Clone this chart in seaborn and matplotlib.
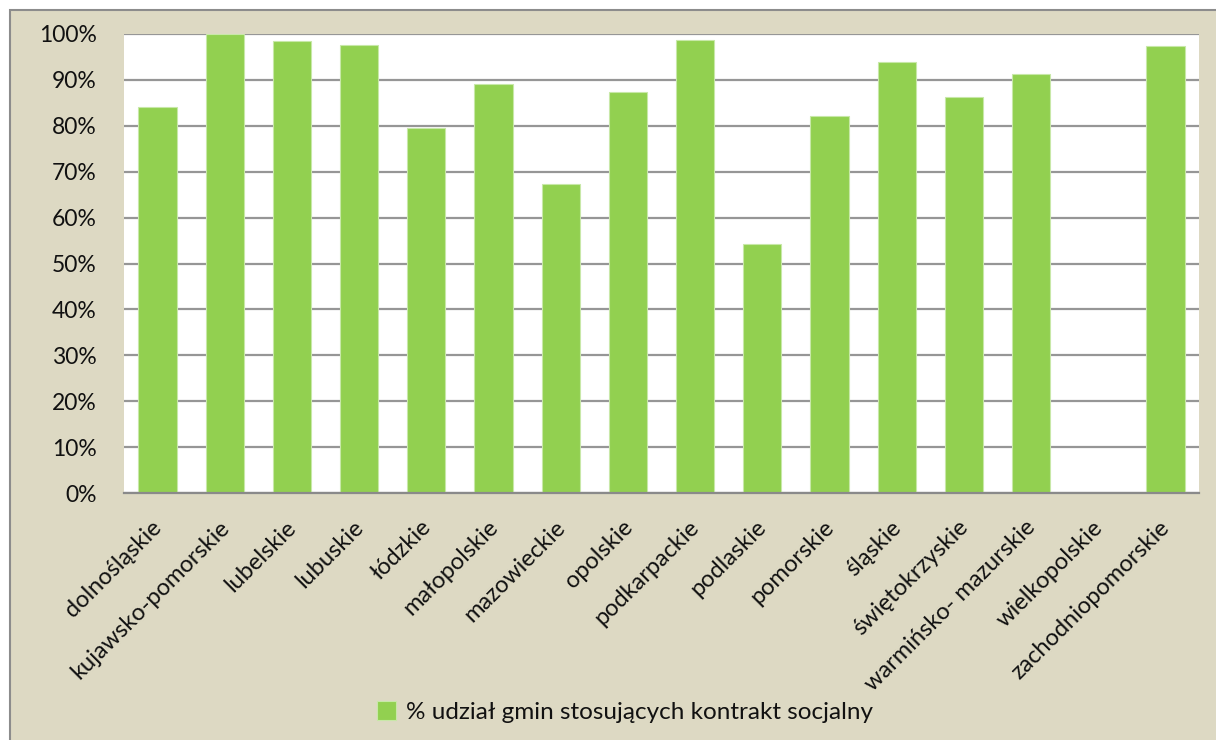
import matplotlib
matplotlib.use("Agg")
import matplotlib.pyplot as plt
import matplotlib.transforms as mtransforms
import seaborn as sns
import pandas as pd
from matplotlib.patches import Rectangle
from matplotlib.ticker import FuncFormatter

categories = ["dolnośląskie", "kujawsko-pomorskie", "lubelskie", "lubuskie", "łódzkie",
              "małopolskie", "mazowieckie", "opolskie", "podkarpackie", "podlaskie",
              "pomorskie", "śląskie", "świętokrzyskie", "warmińsko- mazurskie",
              "wielkopolskie", "zachodniopomorskie"]
values = [84.0, 100.0, 98.5, 97.6, 79.6, 89.0, 67.4, 87.3, 98.7, 54.2,
          82.1, 94.0, 86.2, 91.3, 0.0, 97.4]
series_label = "% udział gmin stosujących kontrakt socjalny"
yticks = [0, 10, 20, 30, 40, 50, 60, 70, 80, 90, 100]

df = pd.DataFrame({"region": categories, "value": values})

sns.set_style("white")
plt.rcParams["font.family"] = ["Lato", "DejaVu Sans"]

W, H = 1216, 740
fig = plt.figure(figsize=(W / 100, H / 100), dpi=100, facecolor="white")
beige = "#DDD9C3"
fig.add_artist(Rectangle((10 / W, -0.01), 1.02, 1 - 10 / H + 0.01, transform=fig.transFigure,
                         facecolor=beige, edgecolor="#8C8C8C", linewidth=1.5, zorder=0))

ax = fig.add_axes([124 / W, 1 - 493 / H, (1199 - 124) / W, (493 - 34) / H])
ax.set_facecolor("white")
sns.barplot(data=df, x="region", y="value", color="#92D050", width=0.57,
            saturation=1, edgecolor="#C8E8A8", linewidth=0.8, label=series_label,
            ax=ax, zorder=3)

ax.set_ylim(0, 100)
ax.set_xlim(-0.5, len(categories) - 0.5)
ax.set_yticks(yticks)
ax.yaxis.set_major_formatter(FuncFormatter(lambda v, p: f"{int(v)}%"))
ax.grid(axis="y", color="#969696", linewidth=1.6, zorder=0)
ax.set_axisbelow(True)
for s in ["left", "right", "top"]:
    ax.spines[s].set_visible(False)
ax.spines["bottom"].set_color("#8A8A8A")
ax.spines["bottom"].set_linewidth(1.6)
ax.spines["bottom"].set_zorder(4)
ax.tick_params(axis="y", length=0, pad=19.5, labelsize=16.5, labelcolor="#111111")
ax.tick_params(axis="x", length=0, pad=0, labelsize=17, labelcolor="#111111")
ax.set_xlabel("")
ax.set_ylabel("")
offset = mtransforms.ScaledTranslation(1 / 100, -31 / 100, fig.dpi_scale_trans)
for lab in ax.get_xticklabels():
    lab.set_rotation(45)
    lab.set_ha("right")
    lab.set_va("center")
    lab.set_rotation_mode("anchor")
    lab.set_transform(lab.get_transform() + offset)
for lab in ax.get_yticklabels():
    lab.set_ha("right")

if ax.legend_:
    ax.legend_.remove()
handles, labels = ax.get_legend_handles_labels()
fig.legend(handles, labels, loc="center", bbox_to_anchor=(625 / W, 1 - 712 / H),
           frameon=False, fontsize=17.5, handlelength=0.8, handleheight=0.8,
           handletextpad=0.4, labelcolor="#111111")

fig.savefig("out.png", dpi=100, facecolor="white")
